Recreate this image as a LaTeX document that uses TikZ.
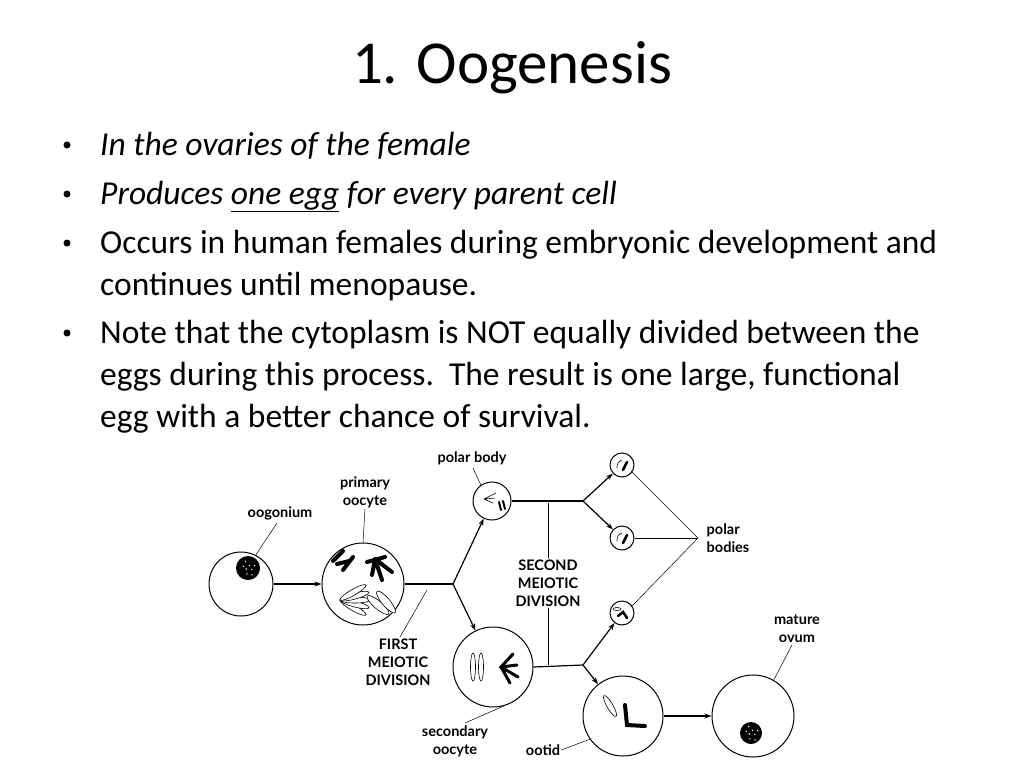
\documentclass[tikz,border=0pt]{standalone}
\usepackage{fontspec}
\setmainfont{Carlito}
\newfontfamily\lab{Lato}
\usetikzlibrary{arrows.meta}
\begin{document}
\begin{tikzpicture}[x=1pt,y=-1pt,
  cell/.style={draw,circle,line width=1pt,inner sep=0pt},
  arr/.style={line width=1.2pt,-{Stealth[length=7pt,width=5pt]}},
  ln/.style={line width=1.2pt},
  lead/.style={line width=0.5pt},
  lbl/.style={font=\lab\bfseries\fontsize{14.5}{18}\selectfont,align=center,inner sep=1pt},
  body/.style={font=\fontsize{33.5}{33.5}\selectfont,anchor=base west,inner sep=0pt},
  chrom/.style={line width=3pt,line cap=round},
  thin/.style={draw,line width=0.6pt,fill=white}]
\useasboundingbox (0,0) rectangle (1024,768);
\node[font=\fontsize{61}{61}\selectfont] (title) at (512,68) {1. Oogenesis};
\foreach \y/\n in {155/b1,204/b2,253/b3,343/b4}
  \fill (67,\y-10) circle (3.5);
\node[body] (t1) at (100,155) {\itshape In the ovaries of the female};
\node[body] (t2) at (100,204) {\itshape Produces \underline{one egg} for every parent cell};
\node[body] (t3) at (100,253) {Occurs in human females during embryonic development and};
\node[body] (t3b) at (100,295) {continues until menopause.};
\node[body] (t4) at (100,343) {Note that the cytoplasm is NOT equally divided between the};
\node[body] (t4b) at (100,385) {eggs during this process.\ \ The result is one large, functional};
\node[body] (t4c) at (100,427) {egg with a better chance of survival.};

% cells
\node[cell,minimum size=64pt] (oog) at (241,584) {};
\node[cell,minimum size=82pt] (prim) at (363,584) {};
\node[cell,minimum size=38pt] (pb) at (492,501) {};
\node[cell,minimum size=80pt] (sec) at (493,667) {};
\node[cell,minimum size=24pt] (p1) at (622,465) {};
\node[cell,minimum size=24pt] (p2) at (622,538) {};
\node[cell,minimum size=24pt] (p3) at (622,613) {};
\node[cell,minimum size=80pt] (ootid) at (623,716) {};
\node[cell,minimum size=82pt] (ovum) at (753,716) {};
\coordinate (b1) at (453,584);
\coordinate (b2) at (583,501);
\coordinate (b3) at (583,665);

% nuclei
\fill[black] (248,568) circle (12);
\foreach \a/\r in {20/4,100/6,200/5,300/3,250/7,60/8,150/2,340/7}
  \fill[white] (248,568) ++(\a:\r) circle (0.8);
\fill[black] (751,733) circle (11);
\foreach \a/\r in {20/4,100/6,200/5,300/3,250/7,60/8,150/2,340/7}
  \fill[white] (751,733) ++(\a:\r) circle (0.8);

% chromosomes primary oocyte
\draw[chrom,line width=4pt] (333,561)--(343,551) (343,570)--(353,557) (337,564)--(349,561);
\draw[chrom,line width=4pt] (367,562)--(385,557) (375,559)--(382,580) (375,559)--(392,572) (375,559)--(372,575);
\foreach \a in {-30,-15,0,15,30}
  \draw[thin,rotate around={\a:(340,600)}] (355,600) ellipse (15 and 3);
\draw[thin,rotate around={-40:(378,605)}] (378,605) ellipse (14 and 4);
\draw[thin,rotate around={-50:(386,602)}] (386,602) ellipse (14 and 4);
% secondary oocyte
\draw[thin] (473,667) ellipse (2.5 and 14);
\draw[thin] (481,667) ellipse (2.5 and 14);
\draw[chrom] (513,654)--(501,667)--(518,677) (501,667)--(517,665) (501,667)--(510,683);
% polar body
\draw[line width=0.6pt] (484,499)--(496,493) (484,499)--(495,498) (484,499)--(493,503);
\draw[chrom,line width=2pt] (499,502)--(501,510) (503,501)--(505,509);
% small polar bodies
\foreach \c in {p1,p2}{
  \draw[line width=0.6pt] ([shift={(-5,3)}]\c.center) to[bend left=40] ([shift={(0,-5)}]\c.center);
  \draw[chrom,line width=2.5pt] ([shift={(1,5)}]\c.center)--([shift={(5,-3)}]\c.center);}
\draw[thin] (617,609) ellipse (4 and 1.5);
\draw[chrom,line width=2.5pt] (618,616)--(623,612)--(627,618);
% ootid chromosomes
\draw[thin,rotate around={-60:(610,706)}] (610,706) ellipse (12 and 3);
\draw[chrom,line width=4pt] (625,705)--(627,725)--(645,726);

% connectors
\draw[arr] (oog) -- (prim);
\draw[ln] (prim.east) -- (b1);
\draw[arr] (b1) -- (pb);
\draw[arr] (b1) -- (sec);
\draw[ln] (pb.east) -- (b2);
\draw[arr] (b2) -- (p1);
\draw[arr] (b2) -- (p2);
\draw[ln] (sec.east) -- (b3);
\draw[arr] (b3) -- (p3);
\draw[arr] (b3) -- (ootid);
\draw[arr] (ootid) -- (ovum);

% labels
\node[lbl] (loog) at (280,513) {oogonium};
\node[lbl] (lprim) at (365,492) {primary\\oocyte};
\node[lbl] (lpb) at (472,458) {polar body};
\node[lbl] (lfirst) at (398,662) {FIRST\\MEIOTIC\\DIVISION};
\node[lbl] (lsecond) at (548,583) {SECOND\\MEIOTIC\\DIVISION};
\node[lbl,align=left] (lpolar) at (728,538) {polar\\bodies};
\node[lbl] (lovum) at (797,629) {mature\\ovum};
\node[lbl] (lsec) at (455,741) {secondary\\oocyte};
\node[lbl] (loot) at (543,750) {ootid};

\coordinate (pc) at (698,538);
\draw[lead] (277,523) -- (oog.63);
\draw[lead] (lprim.south) -- (prim.north);
\draw[lead] (473,468) -- (pb.125);
\draw[lead] (400,637) -- (427,590);
\draw[lead] (lsecond.north) -- (548,503);
\draw[lead] (lsecond.south) -- (548,665);
\draw[lead] (pc) -- (p1.-35);
\draw[lead] (pc) -- (p2.east);
\draw[lead] (pc) -- (p3.35);
\draw[lead] (792,645) -- (ovum.60);
\draw[lead] (465,723) -- (sec.-75);
\draw[lead] (loot.east) -- (ootid.215);
\end{tikzpicture}
\end{document}
